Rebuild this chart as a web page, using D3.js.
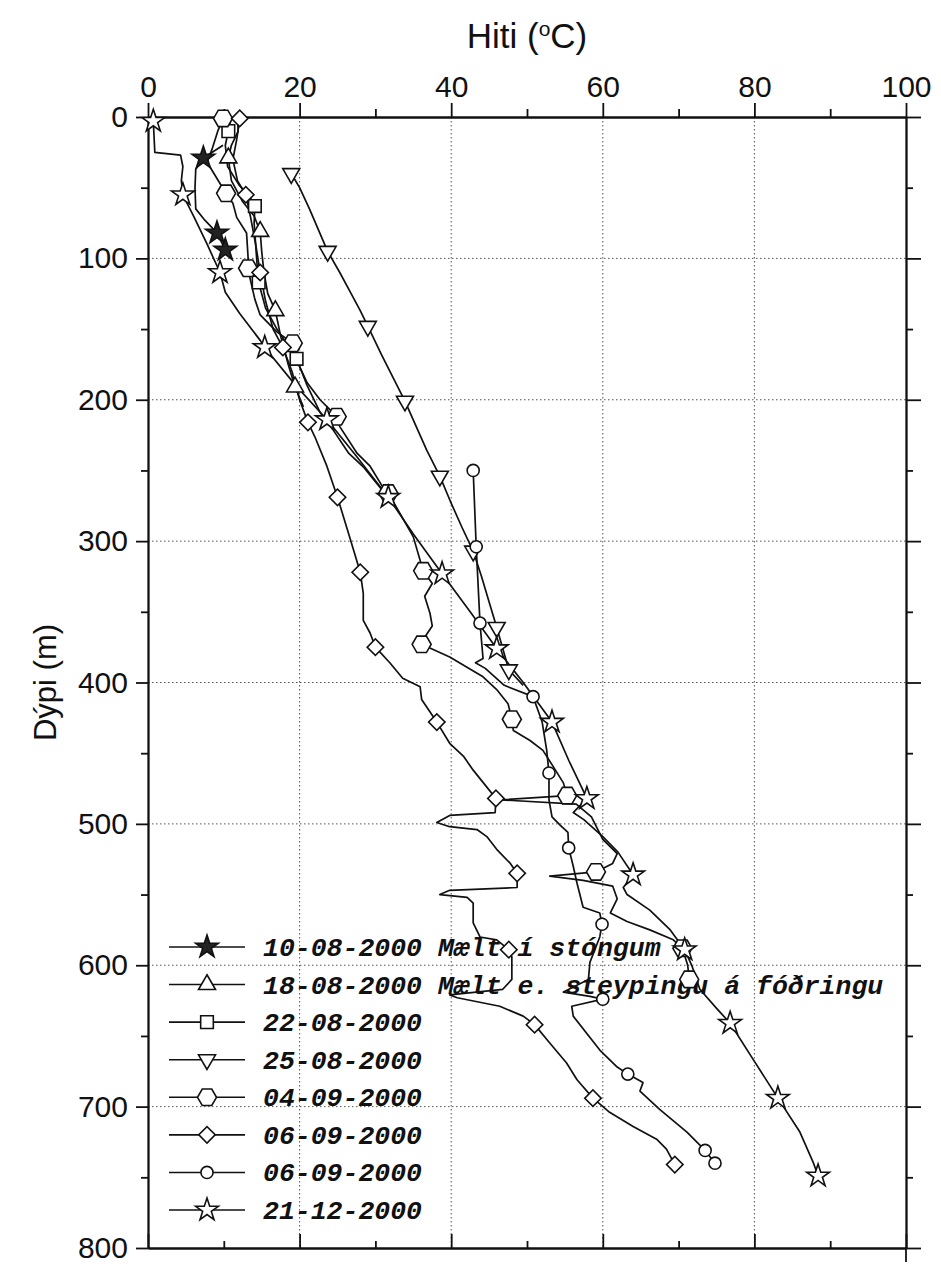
<!DOCTYPE html>
<html>
<head>
<meta charset="utf-8">
<script src="https://cdn.jsdelivr.net/npm/d3@7"></script>
<style>
  body { margin: 0; background: #fff; }
  .axis text { font-family: "Liberation Sans", Arial, sans-serif; font-size: 30px; fill: #111; }
  .axis path, .axis line { stroke: #111; stroke-width: 1.8; }
</style>
</head>
<body>
<svg id="chart" width="941" height="1266"></svg>
<script>
// each point: [temperature °C, depth m, 1 if a marker is drawn there]
const d10_08 = [[9.9,20],[7.3,29,1],[6.3,37],[6.2,50],[6.3,65],[7.5,73],[9.1,82,1],[10.2,94,1]];
const d18_08 = [[11.8,0],[11.9,10],[11.0,20],[10.6,29,1],[11.0,45],[12.5,60],[14.0,70],[14.8,81,1],[15.0,95],
  [15.3,110],[15.8,125],[16.8,137,1],[17.5,155],[18.5,175],[19.4,191,1],[20.5,205]];
const d22_08 = [[11.0,0],[10.6,10,1],[10.2,20],[10.5,35],[12.0,48],[13.5,57],[14.1,63,1],[14.0,75],[14.2,90],
  [14.4,105],[14.6,117,1],[15.5,135],[17.0,150],[18.5,162],[19.6,171,1],[21.0,190],[22.7,209],[24.5,222],
  [26.5,238],[28.5,248],[30.0,258],[31.2,266]];
const d25_08 = [[18.9,40,1],[20.0,50],[21.3,65],[22.5,80],[23.7,95,1],[25.3,110],[26.8,125],[28.0,137],[29.0,148,1],
  [30.8,168],[32.4,185],[33.9,201,1],[35.3,218],[36.8,236],[38.5,254,1],[39.9,272],[41.4,290],[42.9,307,1],
  [44.0,325],[45.0,343],[46.0,361,1],[46.8,376],[47.6,391,1],[49.5,402]];
const d04_09 = [[9.9,1,1],[9.2,10],[8.5,22],[7.8,32],[9.5,47],[10.3,54,1],[11.2,61],[11.7,71],[13.0,82],[13.2,99],
  [13.2,107,1],[13.5,115],[14.1,129],[14.8,140],[17.0,152],[19.1,160,1],[19.6,172],[21.0,188],[22.7,200],
  [24.0,207],[24.9,212,1],[25.3,219],[27.6,238],[29.3,247],[31.0,262],[31.7,266,1],[33.2,280],[35.0,297],
  [36.3,321,1],[37.5,330],[36.5,339],[37.2,351],[37.5,360],[36.5,368],[36.1,373,1],[39.8,382],[44.2,396],
  [46.0,405],[47.5,415],[48.0,426,1],[48.2,434],[50.4,441],[52.1,448],[53.4,459],[54.8,471],[55.3,480,1],
  [46.5,483],[56.5,486],[58.5,495],[60.0,511],[61.9,521],[61.3,528],[59.1,534,1],[53.0,537],[57.4,540],
  [61.3,544],[61.9,553],[61.0,563],[63.2,569],[66.2,575],[69.3,582],[70.5,588,1],[71.2,600],[71.4,610,1]];
const d06_09a = [[12.1,1,1],[11.9,9],[11.7,16],[11.2,30],[11.8,45],[12.9,55,1],[13.5,70],[14.2,90],[14.8,110,1],
  [15.5,130],[16.5,150],[17.8,163,1],[19.0,180],[20.0,200],[21.1,216,1],[22.0,226],[23.6,247],[25.0,269,1],
  [26.6,297],[28.0,322,1],[28.4,337],[28.4,356],[29.3,365],[30.0,375,1],[31.9,386],[33.6,397],[35.9,403],
  [36.1,412],[38.1,428,1],[39.8,443],[41.6,452],[42.9,462],[44.7,474],[45.9,482,1],[45.8,492],[39.8,494],
  [38.1,499],[39.8,502],[43.4,504],[44.7,509],[46.0,518],[47.8,528],[48.7,535,1],[48.7,545],[39.8,547],
  [38.5,550],[42.1,552],[42.9,556],[42.9,570],[43.8,580],[46.0,582],[47.6,589,1],[48.0,594],[48.0,610],
  [46.8,617],[39.8,621],[40.8,623],[46.4,629],[49.5,636],[51.0,642,1],[53.0,655],[55.2,669],[56.6,681],
  [58.7,694,1],[60.9,704],[64.0,714],[67.1,723],[68.4,730],[69.5,741,1]];
const d06_09b = [[42.9,250,1],[43.3,304,1],[43.8,358,1],[44.2,383],[43.2,386],[44.5,390],[47.0,402],[50.8,410,1],
  [52.0,428],[52.6,448],[52.9,464,1],[52.9,483],[53.3,495],[54.4,501],[55.4,506],[55.5,517,1],[56.1,530],
  [56.6,542],[57.4,559],[59.6,563],[59.9,571,1],[59.6,580],[58.3,598],[58.1,610],[54.8,619],[58.3,622],
  [60.0,624,1],[55.9,629],[56.1,636],[59.6,660],[61.9,672],[63.3,677,1],[65.3,683],[64.9,689],[67.5,702],
  [71.1,718],[73.5,731,1],[74.8,740,1]];
const d21_12 = [[0.7,3,1],[0.9,25],[4.3,27],[4.6,35],[4.4,45],[4.6,55,1],[6.0,70],[7.8,90],[9.5,110,1],[10.2,124],
  [12.1,139],[14.8,158],[15.4,163,1],[19.5,190],[23.6,214,1],[27.5,240],[31.7,269,1],[35.0,295],[38.8,323,1],
  [42.5,350],[46.0,376,1],[49.5,400],[53.3,428,1],[55.5,455],[57.9,482,1],[56.1,492],[57.5,497],[60.0,509],
  [62.0,520],[64.0,536,1],[62.7,545],[63.2,550],[66.2,561],[68.9,575],[70.8,589,1],[71.8,601],[72.8,617],
  [75.1,631],[76.8,641,1],[80.0,668],[83.1,694,1],[86.0,718],[87.8,740],[88.4,749,1]];

const seriesData = [d10_08, d18_08, d22_08, d25_08, d04_09, d06_09a, d06_09b, d21_12];
const seriesLabels = ["10-08-2000 Mælt í stóngum", "18-08-2000 Mælt e. steypingu á fóðringu", "22-08-2000",
  "25-08-2000", "04-09-2000", "06-09-2000", "06-09-2000", "21-12-2000"];
const seriesMarkers = ["starFill", "triUp", "square", "triDown", "hex", "diamond", "circle", "star"];

const xTicks = [0, 20, 40, 60, 80, 100];
const xMinor = [10, 30, 50, 70, 90];
const yTicks = [0, 100, 200, 300, 400, 500, 600, 700, 800];
const yMinor = [50, 150, 250, 350, 450, 550, 650, 750];

const svg = d3.select("#chart");
const pLeft = 148, pRight = 906, pTop = 117, pBottom = 1248;

const x = d3.scaleLinear().domain([0, 100]).range([pLeft, pRight]);
const y = d3.scaleLinear().domain([0, 800]).range([pTop, pBottom]);

// dotted grid at the labelled ticks
const grid = svg.append("g").attr("stroke", "#555").attr("stroke-width", 1).attr("stroke-dasharray", "1.5,2.5");
grid.selectAll(".gx").data(xTicks.slice(1, -1)).join("line")
  .attr("x1", d => x(d)).attr("x2", d => x(d)).attr("y1", pTop).attr("y2", pBottom);
grid.selectAll(".gy").data(yTicks.slice(1, -1)).join("line")
  .attr("x1", pLeft).attr("x2", pRight).attr("y1", d => y(d)).attr("y2", d => y(d));

// axes
function addAxis(axis, tr) {
  return svg.append("g").attr("class", "axis").attr("transform", tr).call(axis);
}
addAxis(d3.axisTop(x).tickValues(xTicks).tickSize(14).tickSizeOuter(0).tickPadding(6), `translate(0,${pTop})`);
addAxis(d3.axisTop(x).tickValues(xMinor).tickSize(8).tickSizeOuter(0).tickFormat(""), `translate(0,${pTop})`);
addAxis(d3.axisBottom(x).tickValues(xTicks).tickSize(-14).tickSizeOuter(0).tickFormat(""), `translate(0,${pBottom})`);
addAxis(d3.axisBottom(x).tickValues(xMinor).tickSize(-7).tickSizeOuter(0).tickFormat(""), `translate(0,${pBottom})`);
addAxis(d3.axisLeft(y).tickValues(yTicks).tickSize(12).tickSizeOuter(0).tickPadding(8), `translate(${pLeft},0)`);
addAxis(d3.axisLeft(y).tickValues(yMinor).tickSize(7).tickSizeOuter(0).tickFormat(""), `translate(${pLeft},0)`);
addAxis(d3.axisRight(y).tickValues(yTicks).tickSize(15).tickSizeOuter(0).tickFormat(""), `translate(${pRight},0)`);
addAxis(d3.axisRight(y).tickValues(yMinor).tickSize(7).tickSizeOuter(0).tickFormat(""), `translate(${pRight},0)`);
svg.append("line").attr("x1", pRight).attr("x2", pRight).attr("y1", pBottom).attr("y2", pBottom + 14)
  .attr("stroke", "#111").attr("stroke-width", 1.8);

// axis titles
const title = svg.append("text").attr("x", (pLeft + pRight) / 2).attr("y", 48)
  .attr("text-anchor", "middle").style("font-family", "Liberation Sans, Arial, sans-serif")
  .style("font-size", "35px").attr("fill", "#111");
title.append("tspan").text("Hiti (");
title.append("tspan").attr("dy", -12).style("font-size", "21px").text("o");
title.append("tspan").attr("dy", 12).text("C)");

svg.append("text")
  .attr("transform", `translate(56,${(pTop + pBottom) / 2}) rotate(-90)`)
  .attr("text-anchor", "middle").style("font-family", "Liberation Sans, Arial, sans-serif")
  .style("font-size", "31px").attr("fill", "#111")
  .text("Dýpi (m)");

// marker shapes
function hexPath(r) {
  const pts = d3.range(6).map(i => [r * Math.cos(i * Math.PI / 3), r * Math.sin(i * Math.PI / 3)]);
  return "M" + pts.map(p => p.join(",")).join("L") + "Z";
}
function markerPath(type) {
  switch (type) {
    case "starFill":
    case "star": return { d: d3.symbol(d3.symbolStar, 160)(), rot: 0 };
    case "triUp": return { d: d3.symbol(d3.symbolTriangle, 125)(), rot: 0 };
    case "triDown": return { d: d3.symbol(d3.symbolTriangle, 125)(), rot: 180 };
    case "square": return { d: d3.symbol(d3.symbolSquare, 160)(), rot: 0 };
    case "diamond": return { d: d3.symbol(d3.symbolSquare, 135)(), rot: 45 };
    case "circle": return { d: d3.symbol(d3.symbolCircle, 115)(), rot: 0 };
    case "hex": return { d: hexPath(9.5), rot: 0 };
  }
}
function drawMarker(g, type, cx, cy) {
  const m = markerPath(type);
  g.append("path")
    .attr("d", m.d)
    .attr("transform", `translate(${cx},${cy}) rotate(${m.rot})`)
    .attr("fill", type === "starFill" ? "#222" : "#fff")
    .attr("stroke", "#111")
    .attr("stroke-width", 1.6);
}

// legend (drawn under the curves)
const legend = svg.append("g");
const legY = d3.scaleLinear().domain([0, 7]).range([947, 1210]);
seriesLabels.forEach((label, i) => {
  const ly = legY(i);
  legend.append("line").attr("x1", 169).attr("x2", 245).attr("y1", ly).attr("y2", ly)
    .attr("stroke", "#111").attr("stroke-width", 1.6);
  drawMarker(legend, seriesMarkers[i], 207, ly);
  legend.append("text").attr("x", 263).attr("y", ly + 9)
    .style("font-family", "Liberation Mono, Courier New, monospace")
    .style("font-size", "26.5px").style("font-weight", "bold").style("font-style", "italic")
    .attr("fill", "#111")
    .text(label);
});

// profiles
const line = d3.line().x(d => x(d[0])).y(d => y(d[1]));
const curves = svg.append("g");
seriesData.forEach(s => {
  curves.append("path").attr("d", line(s)).attr("fill", "none")
    .attr("stroke", "#111").attr("stroke-width", 1.7).attr("stroke-linejoin", "round");
});
const marks = svg.append("g");
seriesData.forEach((s, i) => {
  s.filter(d => d[2]).forEach(d => drawMarker(marks, seriesMarkers[i], x(d[0]), y(d[1])));
});
</script>
</body>
</html>
